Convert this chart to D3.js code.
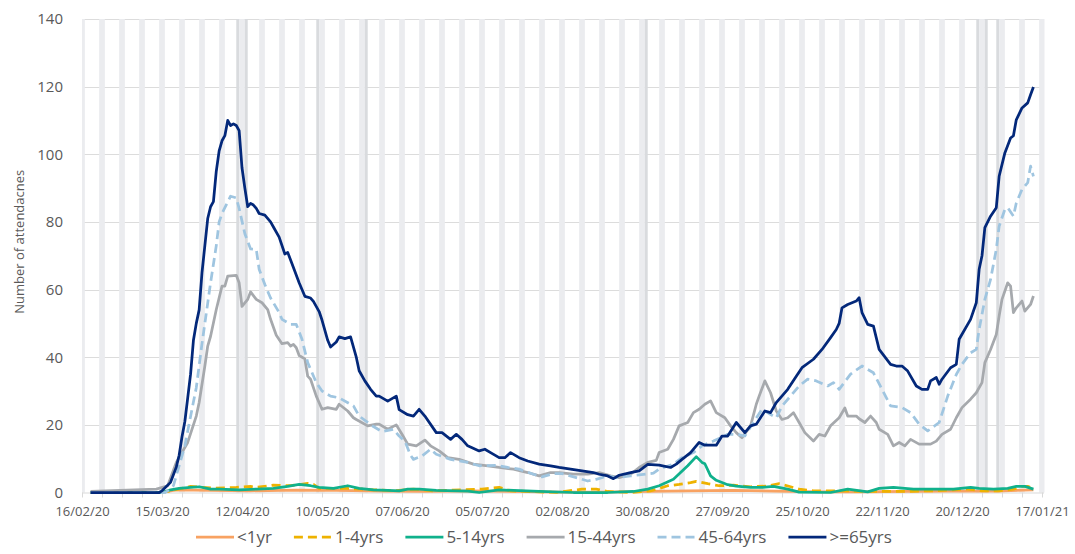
<!DOCTYPE html>
<html>
<head>
<meta charset="utf-8">
<script src="https://cdn.jsdelivr.net/npm/d3@7"></script>
<style>
  body { margin: 0; background: #fff; }
  svg text { font-family: "Open Sans", "Liberation Sans", sans-serif; fill: #595959; }
</style>
</head>
<body>
<div id="chart"></div>
<script>
// daily attendances by age band (7-day smoothed)
const under1 = [["19/02/20",0],["15/03/20",0],["20/03/20",0.8],["01/04/20",0.6],["15/04/20",0.5],["01/05/20",0.7],["15/05/20",0.6],["01/06/20",0.4],["15/06/20",0.3],["01/07/20",0.5],["15/07/20",0.3],["01/08/20",0.1],["15/08/20",0.1],["01/09/20",0.3],["15/09/20",0.5],["01/10/20",0.6],["15/10/20",0.4],["01/11/20",0.2],["15/11/20",0.2],["01/12/20",0.3],["15/12/20",0.4],["01/01/21",0.4],["14/01/21",0.8]];

const age1to4 = [["19/02/20",0],["15/03/20",0],["18/03/20",0.5],["25/03/20",1.8],["02/04/20",1.3],["10/04/20",1.5],["15/04/20",1.8],["17/04/20",1.5],["23/04/20",2.2],["29/04/20",2],["05/05/20",2.7],["07/05/20",2.4],["09/05/20",1.2],["15/05/20",1.2],["19/05/20",1.2],["28/05/20",0.8],["04/06/20",0.5],["11/06/20",1],["18/06/20",0.5],["05/07/20",1],["11/07/20",1.5],["15/07/20",0.5],["31/07/20",0],["09/08/20",1],["14/08/20",1],["18/08/20",0.3],["26/08/20",0],["02/09/20",0.5],["05/09/20",1.2],["08/09/20",2],["12/09/20",2.4],["16/09/20",2.9],["18/09/20",3.3],["22/09/20",2.6],["26/09/20",2],["01/10/20",2.2],["07/10/20",1.7],["13/10/20",1.9],["17/10/20",2.6],["21/10/20",1.7],["24/10/20",1],["29/10/20",0.5],["08/11/20",0.5],["17/11/20",0.3],["28/11/20",0.3],["10/12/20",0.5],["22/12/20",1],["27/12/20",0.5],["02/01/21",0.5],["07/01/21",1],["10/01/21",1.8],["12/01/21",1.8],["14/01/21",1.2]];

const age5to14 = [["19/02/20",0],["15/03/20",0],["18/03/20",0.8],["21/03/20",1.2],["25/03/20",1.5],["28/03/20",1.7],["01/04/20",1],["04/04/20",1],["11/04/20",0.8],["17/04/20",1],["23/04/20",1.2],["28/04/20",1.8],["02/05/20",2.4],["06/05/20",2],["09/05/20",1.5],["14/05/20",1.2],["19/05/20",2],["23/05/20",1.2],["28/05/20",0.8],["02/06/20",0.6],["06/06/20",0.5],["09/06/20",1],["13/06/20",1],["19/06/20",0.6],["30/06/20",0.4],["04/07/20",0],["11/07/20",0.8],["16/07/20",0.6],["25/07/20",0.3],["06/08/20",0],["18/08/20",0],["27/08/20",0.3],["01/09/20",1],["05/09/20",2],["10/09/20",3.9],["15/09/20",7.9],["18/09/20",10.6],["20/09/20",8.9],["21/09/20",8.5],["23/09/20",4.9],["25/09/20",3.6],["29/09/20",2.3],["02/10/20",1.9],["07/10/20",1.5],["11/10/20",1.5],["15/10/20",1.8],["20/10/20",1],["24/10/20",0.1],["04/11/20",0],["10/11/20",1],["17/11/20",0.2],["21/11/20",1.2],["26/11/20",1.5],["03/12/20",1],["10/12/20",1],["17/12/20",1],["23/12/20",1.5],["26/12/20",1.2],["31/12/20",1],["05/01/21",1.2],["08/01/21",1.8],["11/01/21",1.8],["14/01/21",1]];

const age15to44 = [["19/02/20",0.3],["13/03/20",1],["17/03/20",2],["20/03/20",8.9],["24/03/20",14.8],["27/03/20",22.6],["28/03/20",26.6],["30/03/20",37.4],["31/03/20",43.3],["01/04/20",46.2],["03/04/20",54.1],["05/04/20",61],["06/04/20",61],["07/04/20",64],["10/04/20",64.2],["11/04/20",62],["12/04/20",55],["14/04/20",57.1],["15/04/20",59.3],["17/04/20",57.1],["19/04/20",56.1],["21/04/20",54.1],["22/04/20",51.2],["24/04/20",46.5],["26/04/20",44],["28/04/20",44.3],["29/04/20",43.3],["30/04/20",43.8],["01/05/20",42.8],["02/05/20",40.5],["04/05/20",39.5],["05/05/20",34.4],["06/05/20",33.5],["08/05/20",28.5],["10/05/20",24.6],["12/05/20",25.1],["15/05/20",24.6],["16/05/20",26.1],["19/05/20",24.1],["21/05/20",22.1],["22/05/20",21.6],["26/05/20",19.7],["29/05/20",20.2],["30/05/20",20.2],["02/06/20",18.7],["05/06/20",20],["07/06/20",17.2],["09/06/20",14.3],["12/06/20",13.8],["15/06/20",15.5],["17/06/20",13.8],["20/06/20",12.3],["23/06/20",10.3],["27/06/20",9.8],["02/07/20",8.4],["07/07/20",7.9],["11/07/20",7.4],["16/07/20",6.9],["21/07/20",5.9],["25/07/20",4.9],["29/07/20",5.9],["01/08/20",5.9],["06/08/20",5.4],["11/08/20",5.4],["15/08/20",5.9],["19/08/20",4.9],["22/08/20",4.4],["26/08/20",5.4],["29/08/20",7.4],["01/09/20",8.9],["04/09/20",9.5],["05/09/20",11.8],["08/09/20",12.8],["10/09/20",15.7],["12/09/20",19.7],["15/09/20",20.7],["17/09/20",23.6],["19/09/20",24.6],["21/09/20",26.1],["23/09/20",27.1],["25/09/20",23.6],["28/09/20",22.1],["30/09/20",19.7],["02/10/20",17.7],["04/10/20",16.2],["07/10/20",19.7],["09/10/20",26.1],["10/10/20",28.5],["12/10/20",33],["14/10/20",29.5],["16/10/20",24.1],["18/10/20",21.6],["20/10/20",22.1],["22/10/20",23.6],["24/10/20",20.7],["26/10/20",17.7],["29/10/20",15.2],["31/10/20",17.2],["02/11/20",16.7],["04/11/20",19.7],["07/11/20",22.1],["09/11/20",25],["10/11/20",22.6],["13/11/20",22.6],["14/11/20",21.8],["16/11/20",20.7],["18/11/20",22.6],["20/11/20",20.7],["21/11/20",18.7],["24/11/20",17.2],["26/11/20",13.8],["28/11/20",14.8],["30/11/20",13.8],["02/12/20",15.7],["05/12/20",14.3],["09/12/20",14.3],["11/12/20",15.2],["13/12/20",17.2],["16/12/20",18.7],["18/12/20",22.1],["20/12/20",25.1],["23/12/20",27.6],["25/12/20",29.5],["27/12/20",32.5],["28/12/20",38.4],["30/12/20",42.3],["01/01/21",46.7],["02/01/21",52.2],["03/01/21",57.1],["05/01/21",62],["06/01/21",61],["07/01/21",53.2],["08/01/21",54.6],["10/01/21",56.6],["11/01/21",53.6],["13/01/21",55.6],["14/01/21",58.1]];

const age45to64 = [["19/02/20",0],["16/03/20",0],["17/03/20",0.5],["19/03/20",2],["21/03/20",7.9],["23/03/20",13.8],["25/03/20",22.5],["27/03/20",31],["29/03/20",44],["31/03/20",56],["01/04/20",62],["03/04/20",73],["04/04/20",80],["05/04/20",82.5],["06/04/20",84.2],["08/04/20",87.6],["10/04/20",87.1],["11/04/20",84],["13/04/20",76.5],["15/04/20",72],["17/04/20",71.9],["18/04/20",66],["20/04/20",61.5],["22/04/20",57.5],["25/04/20",53.2],["26/04/20",51.2],["29/04/20",49.7],["01/05/20",49.7],["03/05/20",45.3],["05/05/20",38.4],["08/05/20",32.5],["10/05/20",30],["13/05/20",28.5],["16/05/20",28],["21/05/20",25.6],["23/05/20",22.6],["28/05/20",19.5],["31/05/20",18],["04/06/20",18.7],["06/06/20",16.7],["08/06/20",15.2],["10/06/20",11],["11/06/20",9.8],["14/06/20",10.8],["17/06/20",12.8],["19/06/20",11.3],["24/06/20",9.8],["30/06/20",8.9],["04/07/20",7.9],["10/07/20",8],["14/07/20",7.4],["18/07/20",6.9],["23/07/20",5.4],["26/07/20",4.6],["30/07/20",5.6],["02/08/20",5.6],["07/08/20",4.4],["11/08/20",3.4],["14/08/20",3.9],["18/08/20",4.9],["21/08/20",4.4],["26/08/20",4.9],["29/08/20",5.2],["03/09/20",5.7],["05/09/20",6.9],["10/09/20",8.4],["13/09/20",10.3],["17/09/20",11.8],["20/09/20",13.8],["24/09/20",15.2],["29/09/20",17.2],["02/10/20",17.2],["05/10/20",16.7],["08/10/20",20.7],["11/10/20",24.6],["16/10/20",22.1],["18/10/20",25.6],["21/10/20",28.5],["24/10/20",31.5],["27/10/20",33.5],["30/10/20",33],["03/11/20",31.5],["05/11/20",32.5],["07/11/20",30.5],["11/11/20",35],["15/11/20",37.4],["19/11/20",35.4],["22/11/20",30.5],["25/11/20",25.6],["29/11/20",25.1],["02/12/20",23.6],["05/12/20",20.2],["08/12/20",18.2],["12/12/20",20.7],["15/12/20",28.5],["18/12/20",34.9],["20/12/20",37.9],["23/12/20",41.3],["25/12/20",42.3],["26/12/20",48.2],["28/12/20",57.1],["30/12/20",63],["01/01/21",71.9],["02/01/21",78.7],["04/01/21",83.7],["05/01/21",84.2],["07/01/21",81.7],["08/01/21",85.6],["10/01/21",89.6],["12/01/21",91.6],["13/01/21",96.5],["14/01/21",93.5]];

const age65plus = [["19/02/20",0],["14/03/20",0],["15/03/20",0.5],["18/03/20",3],["20/03/20",7.5],["21/03/20",11],["22/03/20",16.5],["23/03/20",21],["24/03/20",28],["25/03/20",35],["26/03/20",45],["27/03/20",50],["28/03/20",54],["29/03/20",65],["30/03/20",73],["31/03/20",81],["01/04/20",84.5],["02/04/20",86],["03/04/20",95],["04/04/20",101],["05/04/20",104],["06/04/20",105.5],["07/04/20",110],["08/04/20",108.5],["09/04/20",109],["10/04/20",108.5],["11/04/20",107],["12/04/20",96],["13/04/20",90],["14/04/20",84.5],["15/04/20",85.5],["16/04/20",85],["17/04/20",84],["18/04/20",82.5],["20/04/20",82],["22/04/20",80],["23/04/20",78.5],["25/04/20",75.5],["27/04/20",70.5],["28/04/20",71],["30/04/20",66.5],["02/05/20",62],["04/05/20",58],["06/05/20",57.5],["07/05/20",56.5],["09/05/20",53.5],["10/05/20",51],["12/05/20",45],["13/05/20",43],["15/05/20",44.5],["16/05/20",46],["18/05/20",45.5],["20/05/20",46],["22/05/20",40],["23/05/20",36],["25/05/20",33],["27/05/20",30.5],["29/05/20",28.5],["30/05/20",28.5],["02/06/20",27],["05/06/20",28.5],["06/06/20",24.5],["09/06/20",23],["11/06/20",22.6],["13/06/20",24.6],["15/06/20",22.6],["19/06/20",17.7],["21/06/20",17.7],["24/06/20",15.7],["26/06/20",17.2],["28/06/20",15.7],["30/06/20",13.8],["04/07/20",12.3],["06/07/20",12.8],["08/07/20",11.8],["11/07/20",10.3],["13/07/20",10.3],["15/07/20",11.8],["18/07/20",10.3],["21/07/20",9.3],["25/07/20",8.4],["29/07/20",7.9],["01/08/20",7.4],["05/08/20",6.9],["09/08/20",6.4],["13/08/20",5.9],["15/08/20",5.4],["18/08/20",4.9],["20/08/20",4.1],["22/08/20",5.1],["26/08/20",5.9],["29/08/20",6.4],["01/09/20",8.3],["05/09/20",8.1],["09/09/20",7.4],["11/09/20",8.4],["13/09/20",9.8],["16/09/20",11.8],["19/09/20",14.8],["21/09/20",14],["25/09/20",14],["27/09/20",16.7],["29/09/20",16.7],["02/10/20",20.7],["05/10/20",17.7],["07/10/20",19.7],["09/10/20",20.2],["12/10/20",24.1],["14/10/20",23.6],["16/10/20",26.6],["20/10/20",30.5],["23/10/20",34.4],["25/10/20",36.9],["29/10/20",39.4],["01/11/20",42.3],["04/11/20",45.8],["06/11/20",48.2],["07/11/20",50],["08/11/20",54.6],["10/11/20",55.6],["13/11/20",56.6],["14/11/20",57.6],["15/11/20",53.2],["17/11/20",49.7],["19/11/20",49.2],["21/11/20",42.3],["25/11/20",37.9],["27/11/20",37.4],["29/11/20",37.4],["01/12/20",35.9],["04/12/20",31.5],["06/12/20",30.5],["08/12/20",30.5],["09/12/20",33],["11/12/20",34],["12/12/20",32],["13/12/20",33.5],["16/12/20",36.9],["18/12/20",37.9],["19/12/20",45.3],["23/12/20",51.2],["25/12/20",56.1],["26/12/20",66],["27/12/20",70],["28/12/20",78.3],["30/12/20",81.7],["01/01/21",84.2],["02/01/21",93.5],["04/01/21",100.4],["06/01/21",104.8],["07/01/21",105.5],["08/01/21",110.2],["10/01/21",113.7],["12/01/21",115.2],["13/01/21",117.6],["14/01/21",119.9]];

const seriesNames = ["<1yr", "1-4yrs", "5-14yrs", "15-44yrs", "45-64yrs", ">=65yrs"];
const bankHolidays = ["10/04/20", "13/04/20", "08/05/20", "25/05/20", "31/08/20", "25/12/20", "28/12/20", "01/01/21"];
const yTicks = [0, 20, 40, 60, 80, 100, 120, 140];

const parse = d3.timeParse("%d/%m/%y");
const fmt = d3.timeFormat("%d/%m/%y");

const width = 1075, height = 554;
const margin = { left: 82, right: 33, top: 19, bottom: 61 };

const seriesData = [under1, age1to4, age5to14, age15to44, age45to64, age65plus];
const colors = ["#f8a262", "#eeb200", "#10b18c", "#a6a9ad", "#9fc5e0", "#03287a"];
const dashes = [null, "9,5", null, null, "9,5", null];

const series = seriesNames.map((name, i) => ({
    name: name,
    color: colors[i],
    dash: dashes[i],
    values: seriesData[i].map(d => ({ date: parse(d[0]), value: d[1] }))
}));

const start = parse("16/02/20"), end = parse("17/01/21");
const x = d3.scaleTime().domain([start, end]).range([margin.left, width - margin.right]);
const y = d3.scaleLinear().domain([0, 140]).range([height - margin.bottom - 0.5, margin.top]);

const svg = d3.select('#chart').append('svg')
    .attr('width', width)
    .attr('height', height);

// horizontal gridlines
svg.append('g')
    .selectAll('line').data(yTicks.filter(t => t > 0))
    .enter().append('line')
    .attr('x1', margin.left)
    .attr('x2', x(end) + 2)
    .attr('y1', d => Math.round(y(d)) + 0.5)
    .attr('y2', d => Math.round(y(d)) + 0.5)
    .attr('stroke', '#dcdcdc')
    .attr('stroke-width', 1);

// weekend and bank holiday shading
const days = d3.timeDay.range(d3.timeDay.offset(start, -1), d3.timeDay.offset(end, 2));
const holidaySet = new Set(bankHolidays);
const shaded = days.filter(d => d.getDay() === 0 || d.getDay() === 6 || holidaySet.has(fmt(d)));
const xMin = margin.left, xMax = x(end) + 2.5;
svg.append('g')
    .selectAll('rect').data(shaded)
    .enter().append('rect')
    .attr('x', d => Math.max(xMin, x(d)))
    .attr('width', d => Math.max(0, Math.min(xMax, x(d3.timeDay.offset(d, 1))) - Math.max(xMin, x(d))))
    .attr('y', y(140))
    .attr('height', y(0) - y(140))
    .attr('fill', d => holidaySet.has(fmt(d)) ? '#d9dbde' : '#ebecef');

// x axis: weekly ticks, labels every four weeks
const weekly = d3.timeWeek.range(start, d3.timeDay.offset(end, 1));
const xAxis = svg.append('g')
    .attr('transform', `translate(0,${y(0)})`)
    .call(d3.axisBottom(x)
        .tickValues(weekly)
        .tickSize(5)
        .tickPadding(9)
        .tickFormat((d, i) => i % 4 === 0 ? fmt(d) : ''));
xAxis.select('.domain').attr('stroke', '#d9d9d9').attr('d', `M${margin.left},0.5H${x(end) + 2}`);
xAxis.selectAll('.tick line').attr('stroke', '#d9d9d9');
xAxis.selectAll('text').style('font-size', '13px');

// y axis labels
const yAxis = svg.append('g')
    .attr('transform', `translate(${margin.left},0)`)
    .call(d3.axisLeft(y).tickValues(yTicks).tickSize(0).tickPadding(19));
yAxis.select('.domain').remove();
yAxis.selectAll('text').style('font-size', '15px');

svg.append('text')
    .attr('transform', `translate(24,${(y(0) + y(140)) / 2 - 14}) rotate(-90)`)
    .attr('text-anchor', 'middle')
    .style('font-size', '13px')
    .text('Number of attendacnes');

// lines
const line = d3.line()
    .x(d => x(d.date))
    .y(d => y(d.value));

svg.append('g')
    .selectAll('path').data(series)
    .enter().append('path')
    .attr('d', d => line(d.values))
    .attr('fill', 'none')
    .attr('stroke', d => d.color)
    .attr('stroke-width', 2.75)
    .attr('stroke-linejoin', 'round')
    .attr('stroke-dasharray', d => d.dash);

// legend
const legend = svg.append('g').attr('transform', 'translate(0,537)');
let lx = 196;
series.forEach(s => {
    legend.append('line')
        .attr('x1', lx).attr('x2', lx + 38)
        .attr('y1', 0).attr('y2', 0)
        .attr('stroke', s.color)
        .attr('stroke-width', 2.75)
        .attr('stroke-dasharray', s.dash);
    const t = legend.append('text')
        .attr('x', lx + 41)
        .attr('y', 0)
        .attr('dy', '0.35em')
        .style('font-size', '17px')
        .text(s.name);
    lx += 41 + t.node().getComputedTextLength() + 22;
});
</script>
</body>
</html>
